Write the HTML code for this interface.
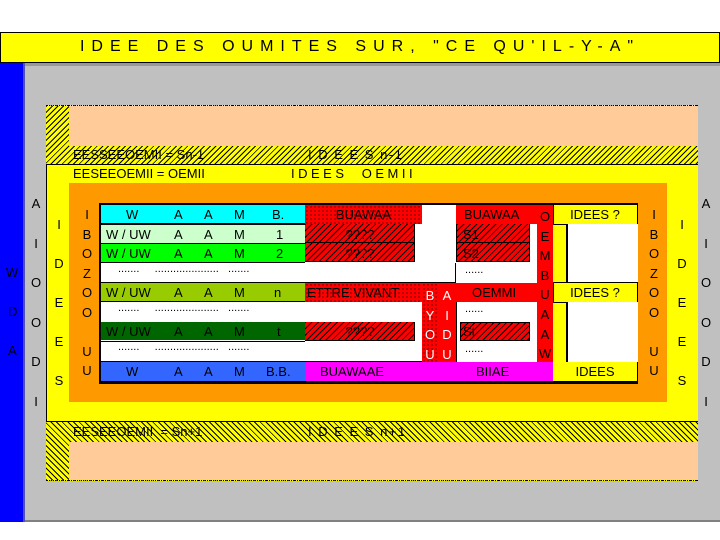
<!DOCTYPE html>
<html><head><meta charset="utf-8"><style>
body{margin:0;width:720px;height:540px;background:#fff;position:relative;overflow:hidden;font-family:"Liberation Sans",Arial,sans-serif;}
div{position:absolute;box-sizing:border-box;}
.t{font-size:13px;line-height:1;color:#000;white-space:nowrap;}
.c{text-align:center;}
.hy{background:repeating-linear-gradient(135deg,#000 0 1px,#ff0 1px 4px);}
.hy2{background:repeating-linear-gradient(45deg,#000 0 1px,#ff0 1px 4px);}
.hr{background:repeating-linear-gradient(135deg,#000 0 1px,#f00 1px 4.5px);}
.dr{background-color:#f00;background-image:radial-gradient(#000 0.6px,transparent 0.8px);background-size:4px 4px;}
.L{font-size:13px;width:14px;text-align:center;line-height:1;}
</style></head><body>
<div style="left:0;top:32px;width:720px;height:31px;background:#ff0;border:1px solid #000;"></div>
<div class="t" style="left:0;top:39px;width:720px;text-align:center;font-size:16px;letter-spacing:7px;">IDEE DES OUMITES SUR, "CE QU'IL-Y-A"</div>
<div style="left:0;top:63px;width:25px;height:459px;background:#00f;border-right:2px solid #5050b0;"></div>
<div style="left:25px;top:63px;width:695px;height:459px;background:#c0c0c0;border-top:3px solid #999;border-bottom:2px solid #808080;"></div>
<div class="t" style="left:6px;top:266px;">W</div>
<div class="t" style="left:8px;top:305px;">D</div>
<div class="t" style="left:8px;top:344px;">A</div>
<div style="left:46px;top:105px;width:652px;height:376px;background:#ff0;border-left:1px solid #000;"></div>
<div class="hy" style="left:46px;top:105px;width:652px;height:60px;border-top:1px dotted #000;border-bottom:1px solid #000;"></div>
<div style="left:69px;top:106px;width:629px;height:40px;background:#fc9;"></div>
<div class="t" style="left:73px;top:148px;">EESSEEOEMII = Sn-1</div>
<div class="t" style="left:308px;top:148px;letter-spacing:1.5px;">I D E E S n-1</div>
<div class="t" style="left:73px;top:167px;">EESEEOEMII = OEMII</div>
<div class="t" style="left:291px;top:167px;letter-spacing:3.5px;">IDEES &nbsp;OEMII</div>
<div class="hy2" style="left:46px;top:421px;width:652px;height:60px;border-top:1px solid #000;border-bottom:1px dotted #000;"></div>
<div style="left:69px;top:442px;width:629px;height:38px;background:#fc9;"></div>
<div class="t" style="left:73px;top:425px;">EESEEOEMII &nbsp;= Sn+1</div>
<div class="t" style="left:308px;top:425px;letter-spacing:1.5px;">I D E E S n+1</div>
<div style="left:69px;top:183px;width:598px;height:219px;background:#f90;"></div>
<div style="left:99px;top:203px;width:539px;height:181px;background:#000;"></div>
<div style="left:101px;top:205px;width:204px;height:18px;background:#0ff;"></div>
<div style="left:101px;top:225px;width:204px;height:18px;background:#cfc;"></div>
<div style="left:101px;top:244px;width:204px;height:18px;background:#0f0;"></div>
<div style="left:101px;top:263px;width:354px;height:19px;background:#fff;"></div>
<div style="left:101px;top:283px;width:204px;height:18px;background:#9c0;"></div>
<div style="left:101px;top:302px;width:321px;height:59px;background:#fff;"></div>
<div style="left:101px;top:322px;width:204px;height:18px;background:#060;"></div>
<div style="left:101px;top:341px;width:204px;height:1px;background:#000;"></div>
<div style="left:101px;top:362px;width:204px;height:19px;background:#36f;"></div>
<div class="t" style="left:126px;top:208px;">W</div>
<div class="t" style="left:174px;top:208px;">A</div><div class="t" style="left:204px;top:208px;">A</div><div class="t" style="left:234px;top:208px;">M</div><div class="t" style="left:272px;top:208px;">B.</div>
<div class="t" style="left:106px;top:228px;">W / UW</div><div class="t" style="left:174px;top:228px;">A</div><div class="t" style="left:204px;top:228px;">A</div><div class="t" style="left:234px;top:228px;">M</div><div class="t" style="left:276px;top:228px;">1</div>
<div class="t" style="left:106px;top:247px;">W / UW</div><div class="t" style="left:174px;top:247px;">A</div><div class="t" style="left:204px;top:247px;">A</div><div class="t" style="left:234px;top:247px;">M</div><div class="t" style="left:276px;top:247px;">2</div>
<div class="t" style="left:118px;top:264px;font-size:11px;">.......&nbsp;&nbsp;&nbsp;&nbsp;&nbsp;.....................&nbsp;&nbsp;&nbsp;.......</div>
<div class="t" style="left:106px;top:286px;">W / UW</div><div class="t" style="left:174px;top:286px;">A</div><div class="t" style="left:204px;top:286px;">A</div><div class="t" style="left:234px;top:286px;">M</div><div class="t" style="left:274px;top:286px;">n</div>
<div class="t" style="left:118px;top:303px;font-size:11px;">.......&nbsp;&nbsp;&nbsp;&nbsp;&nbsp;.....................&nbsp;&nbsp;&nbsp;.......</div>
<div class="t" style="left:106px;top:325px;">W / UW</div><div class="t" style="left:174px;top:325px;">A</div><div class="t" style="left:204px;top:325px;">A</div><div class="t" style="left:234px;top:325px;">M</div><div class="t" style="left:277px;top:325px;">t</div>
<div class="t" style="left:118px;top:342px;font-size:11px;">.......&nbsp;&nbsp;&nbsp;&nbsp;&nbsp;.....................&nbsp;&nbsp;&nbsp;.......</div>
<div class="t" style="left:126px;top:365px;">W</div><div class="t" style="left:174px;top:365px;">A</div><div class="t" style="left:204px;top:365px;">A</div><div class="t" style="left:234px;top:365px;">M</div><div class="t" style="left:266px;top:365px;">B.B.</div>
<div class="dr" style="left:305px;top:205px;width:117px;height:19px;"></div>
<div class="t c" style="left:305px;top:208px;width:117px;">BUAWAA</div>
<div style="left:422px;top:205px;width:34px;height:58px;background:#fff;"></div>
<div style="left:305px;top:224px;width:117px;height:39px;background:#fff;"></div>
<div class="hr" style="left:305px;top:224px;width:110px;height:19px;border-bottom:1px solid #000;border-right:1px solid #000;"></div>
<div class="hr" style="left:305px;top:243px;width:110px;height:19px;border-bottom:1px solid #000;border-right:1px solid #000;"></div>
<div class="t c" style="left:305px;top:228px;width:110px;">????</div>
<div class="t c" style="left:305px;top:247px;width:110px;">????</div>
<div class="dr" style="left:305px;top:283px;width:117px;height:19px;"></div>
<div class="t" style="left:307px;top:286px;">ETTRE VIVANT</div>
<div class="hr" style="left:305px;top:322px;width:110px;height:19px;border-bottom:1px solid #000;border-right:1px solid #000;"></div>
<div class="t c" style="left:305px;top:325px;width:110px;">????</div>
<div class="dr" style="left:422px;top:283px;width:16px;height:79px;"></div>
<div style="left:438px;top:283px;width:18px;height:79px;background:#f00;"></div>
<div class="L" style="left:423px;top:286px;color:#fff;line-height:19.5px;">B<br>Y<br>O<br>U</div>
<div class="L" style="left:440px;top:286px;color:#fff;line-height:19.5px;">A<br>I<br>D<br>U</div>
<div style="left:456px;top:205px;width:97px;height:19px;background:#f00;"></div>
<div class="t" style="left:464px;top:208px;">BUAWAA</div>
<div style="left:456px;top:224px;width:81px;height:59px;background:#fff;"></div>
<div class="hr" style="left:456px;top:224px;width:74px;height:19px;border-bottom:1px solid #000;border-right:1px solid #000;border-left:1px solid #000;"></div>
<div class="hr" style="left:456px;top:243px;width:74px;height:19px;border-bottom:1px solid #000;border-right:1px solid #000;border-left:1px solid #000;"></div>
<div class="t" style="left:463px;top:228px;">S1</div>
<div class="t" style="left:463px;top:247px;">S2</div>
<div class="t" style="left:465px;top:265px;font-size:11px;">......</div>
<div style="left:456px;top:283px;width:97px;height:19px;background:#f00;"></div>
<div class="t" style="left:472px;top:286px;">OEMMI</div>
<div style="left:456px;top:302px;width:81px;height:60px;background:#fff;border-left:1px solid #000;"></div>
<div class="t" style="left:465px;top:304px;font-size:11px;">......</div>
<div class="hr" style="left:460px;top:322px;width:70px;height:19px;border:1px solid #000;"></div>
<div class="t" style="left:463px;top:325px;">St</div>
<div class="t" style="left:465px;top:344px;font-size:11px;">......</div>
<div style="left:537px;top:205px;width:16px;height:157px;background:#f00;"></div>
<div class="L" style="left:538px;top:207px;line-height:19.6px;">O<br>E<br>M<br>B<br>U<br>A<br>A<br>W</div>
<div style="left:553px;top:205px;width:84px;height:157px;background:#ff0;"></div>
<div style="left:553px;top:204px;width:85px;height:21px;border:1px solid #000;"></div>
<div class="t c" style="left:553px;top:208px;width:84px;">IDEES ?</div>
<div style="left:566px;top:224px;width:72px;height:59px;background:#fff;border-left:2px solid #000;"></div>
<div style="left:553px;top:282px;width:85px;height:21px;border:1px solid #000;background:#ff0;"></div>
<div class="t c" style="left:553px;top:286px;width:84px;">IDEES ?</div>
<div style="left:566px;top:302px;width:72px;height:60px;background:#fff;border-left:2px solid #000;"></div>
<div style="left:305px;top:362px;width:248px;height:19px;background:#f0f;"></div>
<div class="t" style="left:320px;top:365px;">BUAWAAE</div>
<div class="t" style="left:476px;top:365px;">BIIAE</div>
<div style="left:553px;top:362px;width:84px;height:19px;background:#ff0;"></div>
<div class="t c" style="left:553px;top:365px;width:84px;">IDEES</div>
<div class="L" style="left:80px;top:205px;line-height:19.5px;">I<br>B<br>O<br>Z<br>O<br>O<br><br>U<br>U</div>
<div class="L" style="left:647px;top:205px;line-height:19.5px;">I<br>B<br>O<br>Z<br>O<br>O<br><br>U<br>U</div>
<div class="L" style="left:52px;top:205px;line-height:39px;">I<br>D<br>E<br>E<br>S</div>
<div class="L" style="left:675px;top:205px;line-height:39px;">I<br>D<br>E<br>E<br>S</div>
<div class="L" style="left:29px;top:184px;line-height:39.5px;">A<br>I<br>O<br>O<br>D<br>I</div>
<div class="L" style="left:699px;top:184px;line-height:39.5px;">A<br>I<br>O<br>O<br>D<br>I</div>
</body></html>
